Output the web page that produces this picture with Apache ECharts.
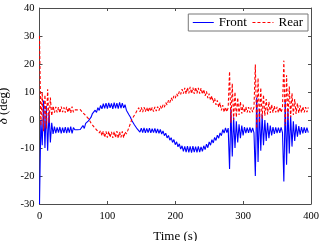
<!DOCTYPE html>
<html>
<head>
<meta charset="utf-8">
<script src="https://cdn.jsdelivr.net/npm/echarts@6/dist/echarts.min.js"></script>
<style>html,body{margin:0;padding:0;background:#fff}#c{width:321px;height:241px}</style>
</head>
<body>
<div id="c"></div>
<script>
const seriesNames = ['Front', 'Rear'];
const xTicks = [0, 100, 200, 300, 400];
const yTicks = [-30, -20, -10, 0, 10, 20, 30, 40];
const time = [
  0, 2, 4, 6, 8, 10, 12, 14, 16, 18,
  20, 22, 24, 26, 28, 30, 32, 34, 36, 38,
  40, 42, 44, 46, 48, 50, 52, 54, 56, 58,
  60, 62, 64, 66, 68, 70, 72, 74, 76, 78,
  80, 82, 84, 86, 88, 90, 92, 94, 96, 98,
  100, 102, 104, 106, 108, 110, 112, 114, 116, 118,
  120, 122, 124, 126, 128, 130, 132, 134, 136, 138,
  140, 142, 144, 146, 148, 150, 152, 154, 156, 158,
  160, 162, 164, 166, 168, 170, 172, 174, 176, 178,
  180, 182, 184, 186, 188, 190, 192, 194, 196, 198,
  200, 202, 204, 206, 208, 210, 212, 214, 216, 218,
  220, 222, 224, 226, 228, 230, 232, 234, 236, 238,
  240, 242, 244, 246, 248, 250, 252, 254, 256, 258,
  260, 262, 264, 266, 268, 270, 272, 274, 276, 278,
  280, 282, 284, 286, 288, 290, 292, 294, 296, 298,
  300, 302, 304, 306, 308, 310, 312, 314, 316, 318,
  320, 322, 324, 326, 328, 330, 332, 334, 336, 338,
  340, 342, 344, 346, 348, 350, 352, 354, 356, 358,
  360, 362, 364, 366, 368, 370, 372, 374, 376, 378,
  380, 382, 384, 386, 388, 390, 392, 394, 396
];
const front = [
  -30, 0, -9, 7, -10, 5, -11, 3, -8, -1,
  -5, -2.4, -4.7, -2.6, -4.5, -2.5, -4.8, -2.7, -4.6, -2.5,
  -4.7, -2.6, -4.5, -2.4, -4.8, -2.7, -3.5, -3.5, -3.5, -3.5,
  -3.4, -3.2, -2.0, -3.0, -1.2, -1.6, -0.3, 0.4, 1.0, 2.3,
  1.8, 3.5, 2.7, 4.4, 3.4, 5.2, 4.0, 5.8, 4.2, 6.0,
  4.1, 6.1, 4.3, 5.9, 4.0, 6.2, 4.2, 6.0, 4.1, 6.3,
  4.2, 6.0, 4.3, 5.5, 3.5, 3.2, 1.8, 1.0, -0.2, -0.8,
  -1.8, -2.2, -3.2, -2.8, -4.3, -2.9, -4.5, -2.8, -4.6, -3.0,
  -4.5, -2.9, -4.6, -3.1, -4.5, -3.0, -4.7, -3.2, -4.8, -3.4,
  -5.0, -3.9, -5.6, -4.7, -6.4, -5.5, -7.2, -6.3, -8.0, -7.0,
  -8.8, -7.8, -9.6, -8.5, -10.4, -9.2, -11.2, -9.4, -11.5, -9.3,
  -11.6, -9.4, -11.7, -9.3, -11.5, -9.5, -11.6, -9.4, -11.5, -9.6,
  -11.2, -9.2, -10.6, -8.6, -9.9, -7.8, -9.0, -7.0, -8.2, -6.2,
  -7.3, -5.4, -6.5, -4.6, -5.6, -3.4, -4.7, -2.8, -4.5, -2.9,
  -17.5, 4, -13, 1, -10, -0.5, -8, -1.5, -6.5, -2,
  -5.5, -2.5, -4.7, -2.7, -4.6, -2.6, -4.5, -2.8, -4.6, -20,
  8, -15, 4, -11, 2, -9, 0, -7.5, -1, -6.5,
  -2, -5.5, -2.5, -5, -2.6, -4.7, -2.7, -4.6, -2.6, -4.5,
  -22, 7, -16, 4, -12, 1.5, -9.5, -0.5, -7.5, -1.5,
  -6, -2.2, -5.2, -2.5, -4.8, -2.6, -4.6, -2.7, -4.5
];
const rear = [
  30, -2, 10, -4, 9, -3, 11, -1, 8, 1.5,
  5, 2.6, 4.7, 2.7, 4.6, 2.5, 4.8, 2.8, 4.5, 2.6,
  4.7, 2.7, 4.6, 2.5, 4.8, 2.8, 3.6, 3.6, 3.6, 3.6,
  3.7, 3.1, 2.6, 2.4, 1.6, 1.2, 0.5, -0.3, -1.2, -1.5,
  -2.4, -2.6, -3.5, -3.3, -4.6, -3.8, -5.6, -4.0, -6.2, -4.1,
  -6.3, -4.0, -6.2, -4.2, -6.4, -4.1, -6.3, -4.0, -6.5, -4.2,
  -6.2, -4.1, -6.4, -4.2, -5.0, -3.8, -2.5, -1.2, 0.2, 0.9,
  1.8, 2.6, 3.0, 4.4, 2.9, 4.5, 2.8, 4.6, 3.0, 4.5,
  2.9, 4.6, 3.1, 4.5, 3.0, 4.7, 3.2, 4.8, 3.4, 5.0,
  3.9, 5.4, 4.6, 6.2, 5.4, 7.0, 6.2, 7.9, 7.0, 8.6,
  7.8, 9.4, 8.5, 10.2, 9.2, 11.0, 9.4, 11.5, 9.3, 11.6,
  9.5, 11.8, 9.4, 11.6, 9.3, 11.7, 9.5, 11.5, 9.4, 11.4,
  9.2, 10.9, 8.6, 10.2, 7.8, 9.4, 7.0, 8.6, 6.2, 7.8,
  5.4, 7.0, 4.6, 6.2, 3.4, 5.3, 2.8, 4.6, 2.9, 4.5,
  17.3, -1, 13, 0, 10, 1, 8, 1.8, 6.5, 2.3,
  5.5, 2.6, 4.7, 2.7, 4.6, 2.6, 4.5, 2.8, 4.6, 19.8,
  -3, 15, -1, 11.5, 0.5, 9, 1.5, 7.5, 2, 6.5,
  2.5, 5.5, 2.6, 5, 2.7, 4.7, 2.6, 4.6, 2.7, 4.5,
  21.2, -2, 16, 0, 12, 1, 9.5, 1.8, 7.5, 2.2,
  6, 2.5, 5.2, 2.6, 4.8, 2.7, 4.6, 2.8, 4.5
];

const FONT = '"Liberation Serif", "DejaVu Serif", serif';
const AX = '#4d4d4d';
const chart = echarts.init(document.getElementById('c'), null, {renderer: 'canvas'});

function xAxisCfg(pos, showLabel) {
  return {
    type: 'value', position: pos, min: xTicks[0], max: xTicks[xTicks.length - 1],
    interval: xTicks[1] - xTicks[0],
    axisLine: {show: true, onZero: false, lineStyle: {color: AX, width: 1}},
    axisTick: {show: true, inside: true, length: 3, lineStyle: {color: AX}},
    axisLabel: {show: showLabel, color: '#000', fontFamily: FONT, fontSize: 10.5, margin: 7},
    splitLine: {show: false},
    name: showLabel ? 'Time (s)' : '',
    nameLocation: 'middle', nameGap: 26,
    nameTextStyle: {color: '#000', fontFamily: FONT, fontSize: 13}
  };
}
function yAxisCfg(pos, showLabel) {
  return {
    type: 'value', position: pos, min: yTicks[0], max: yTicks[yTicks.length - 1],
    interval: yTicks[1] - yTicks[0],
    axisLine: {show: true, onZero: false, lineStyle: {color: AX, width: 1}},
    axisTick: {show: true, inside: true, length: 3, lineStyle: {color: AX}},
    axisLabel: {show: showLabel, color: '#000', fontFamily: FONT, fontSize: 10.5, margin: 5},
    splitLine: {show: false},
    name: showLabel ? '{i|δ} (deg)' : '',
    nameLocation: 'middle', nameGap: 26, nameRotate: 90,
    nameTextStyle: {color: '#000', fontFamily: FONT, fontSize: 13,
      rich: {i: {fontStyle: 'italic', fontFamily: FONT, fontSize: 13, color: '#000'}}}
  };
}

chart.setOption({
  animation: false,
  backgroundColor: '#fff',
  grid: {left: 39.5, right: 10, top: 8, bottom: 37, containLabel: false, outerBoundsMode: 'none'},
  legend: {
    data: seriesNames, right: 13, top: 14, orient: 'horizontal',
    backgroundColor: '#fff', borderColor: '#777', borderWidth: 1,
    padding: [2, 5, 2, 4], itemWidth: 21, itemHeight: 13, itemGap: 5,
    itemStyle: {opacity: 0},
    lineStyle: {width: 1},
    textStyle: {color: '#000', fontFamily: FONT, fontSize: 13}
  },
  xAxis: [xAxisCfg('bottom', true), xAxisCfg('top', false)],
  yAxis: [yAxisCfg('left', true), yAxisCfg('right', false)],
  series: [
    {name: seriesNames[0], type: 'line', showSymbol: false, symbol: 'none',
     data: time.map((t, i) => [t, front[i]]),
     lineStyle: {color: '#0000ff', width: 1.1}, itemStyle: {color: '#0000ff'}},
    {name: seriesNames[1], type: 'line', showSymbol: false, symbol: 'none',
     data: time.map((t, i) => [t, rear[i]]),
     lineStyle: {color: '#ff0000', width: 1.1, type: [3, 2]}, itemStyle: {color: '#ff0000'}}
  ]
});
</script>
</body>
</html>
